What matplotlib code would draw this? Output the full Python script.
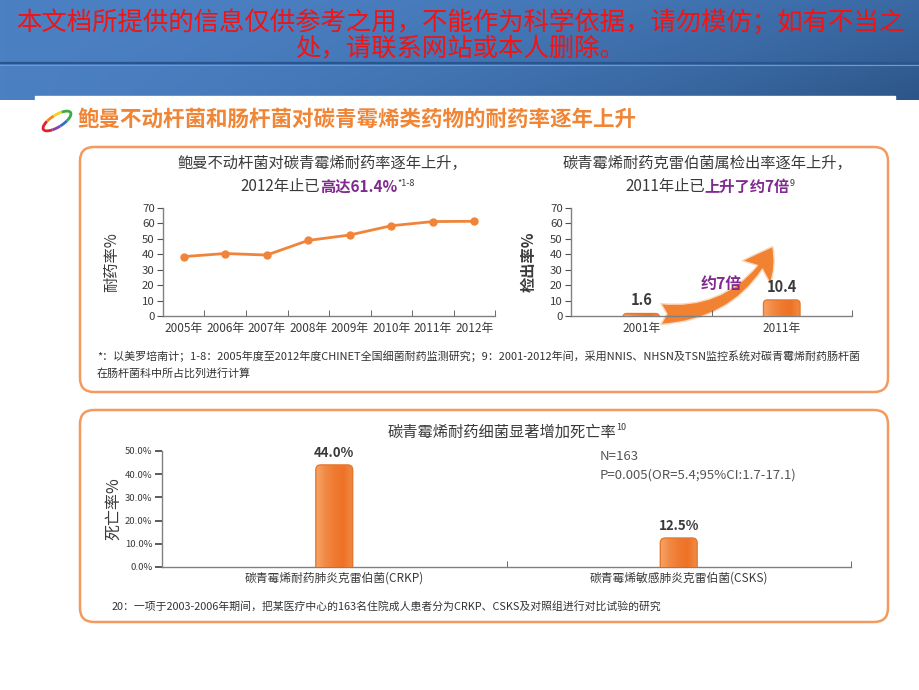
import numpy as np
import matplotlib
matplotlib.use("Agg")
import matplotlib.pyplot as plt
from matplotlib.patches import FancyBboxPatch, FancyArrowPatch, Arc, Rectangle
from matplotlib.offsetbox import TextArea, HPacker, AnnotationBbox
from matplotlib.colors import LinearSegmentedColormap, to_rgb

plt.rcParams['font.family'] = ['Noto Sans CJK SC', 'DejaVu Sans']

# ---------------- data ----------------
years = ['2005年', '2006年', '2007年', '2008年', '2009年', '2010年', '2011年', '2012年']
resistance = [38.5, 40.5, 39.5, 49.0, 52.5, 58.5, 61.2, 61.4]

det_years = ['2001年', '2011年']
detection = [1.6, 10.4]
det_labels = ['1.6', '10.4']

groups = ['碳青霉烯耐药肺炎克雷伯菌(CRKP)', '碳青霉烯敏感肺炎克雷伯菌(CSKS)']
mortality = [44.0, 12.5]
mort_labels = ['44.0%', '12.5%']

# ---------------- figure ----------------
W, H = 920, 690
fig = plt.figure(figsize=(9.2, 6.9), dpi=100)
bg = fig.add_axes([0, 0, 1, 1], zorder=0)
bg.set_xlim(0, W)
bg.set_ylim(H, 0)
bg.axis('off')

def axrect(l, t, r, b):
    return [l / W, 1 - b / H, (r - l) / W, (b - t) / H]

GRAY = '#3A3A3A'
PURPLE = '#80298F'
ORANGE = '#F0843A'
FRAME = '#F39A5E'

# banner gradient
c1 = np.array(to_rgb('#4B80C3'))
c2 = np.array(to_rgb('#2C5689'))
gx = np.linspace(0, 1, 200)[None, :]
gy = np.linspace(0, 1, 50)[:, None]
t = np.clip(0.55 * gx ** 2 + 0.45 * gy * gx, 0, 1)
img = c1[None, None, :] * (1 - t[..., None]) + c2[None, None, :] * t[..., None]
bg.imshow(img, extent=[0, W, 100, 0], aspect='auto', zorder=0)
bg.plot([0, W], [63, 63], color='#2A5490', lw=1.6, zorder=1)
bg.plot([0, W], [65, 65], color='#6F9ACD', lw=0.8, zorder=1)
bg.add_patch(Rectangle((35, 96), 860, 600, color='white', zorder=2))
bg.set_xlim(0, W)
bg.set_ylim(H, 0)

bg.text(460, 23, '本文档所提供的信息仅供参考之用，不能作为科学依据，请勿模仿；如有不当之',
        ha='center', va='center', fontsize=18.3, color='#F01414', zorder=3)
bg.text(460, 49, '处，请联系网站或本人删除。',
        ha='center', va='center', fontsize=18.3, color='#F01414', zorder=3)

# logo ring
logo_cols = ['#E0202A', '#F08A20', '#F2D320', '#3DAA45', '#2F6FD0', '#8A3FB0']
for i, c in enumerate(logo_cols):
    bg.add_patch(Arc((57, 121), 32, 12, angle=-32, theta1=150 + i * 60, theta2=210 + i * 60,
                     color=c, lw=2.0, zorder=3))

bg.text(78, 119, '鲍曼不动杆菌和肠杆菌对碳青霉烯类药物的耐药率逐年上升', ha='left', va='center',
        fontsize=15.5, fontweight='bold', color='#F08535', zorder=3)

# panels
bg.add_patch(FancyBboxPatch((80, 147), 808, 245, boxstyle='round,pad=0,rounding_size=14',
                            ec=FRAME, fc='#FFFFFF', lw=1.8, zorder=3))
bg.add_patch(FancyBboxPatch((80, 410), 808, 212, boxstyle='round,pad=0,rounding_size=14',
                            ec=FRAME, fc='#FFFFFF', lw=1.8, zorder=3))


def mixed(x, y, parts):
    boxes = [TextArea(s, textprops=kw) for s, kw in parts]
    pack = HPacker(children=boxes, align='top', pad=0, sep=0)
    ab = AnnotationBbox(pack, (x, y), xycoords='data', frameon=False,
                        box_alignment=(0.5, 0.5), pad=0, zorder=5)
    bg.add_artist(ab)


norm = dict(fontsize=11, color=GRAY)
hi = dict(fontsize=11, color=PURPLE, fontweight='bold')
sup = dict(fontsize=6.5, color=GRAY)

bg.text(322, 163, '鲍曼不动杆菌对碳青霉烯耐药率逐年上升，', ha='center', va='center', zorder=5, **norm)
mixed(328, 187, [('2012年止已', norm), ('高达61.4%', hi), ('*1-8', sup)])
bg.text(707, 163, '碳青霉烯耐药克雷伯菌属检出率逐年上升，', ha='center', va='center', zorder=5, **norm)
mixed(710, 187, [('2011年止已', norm), ('上升了约7倍', hi), ('9', sup)])
mixed(507, 432, [('碳青霉烯耐药细菌显著增加死亡率', norm), ('10', sup)])

bg.text(97, 356, '*：以美罗培南计；1-8：2005年度至2012年度CHINET全国细菌耐药监测研究；9：2001-2012年间，'
        '采用NNIS、NHSN及TSN监控系统对碳青霉烯耐药肠杆菌', ha='left', va='center', fontsize=7.95,
        color='#333333', zorder=5)
bg.text(97, 373, '在肠杆菌科中所占比列进行计算', ha='left', va='center', fontsize=7.95,
        color='#333333', zorder=5)
bg.text(112, 606, '20：一项于2003-2006年期间，把某医疗中心的163名住院成人患者分为CRKP、CSKS及对照组进行对比试验的研究',
        ha='left', va='center', fontsize=7.8, color='#333333', zorder=5)

bg.text(600, 456, 'N=163', ha='left', va='center', fontsize=9.5, color='#555555', zorder=5)
bg.text(600, 475, 'P=0.005(OR=5.4;95%CI:1.7-17.1)', ha='left', va='center', fontsize=9.5,
        color='#555555', zorder=5)

# arrow in chart 2
arr = FancyArrowPatch((658, 314), (774, 244), connectionstyle='arc3,rad=0.32',
                      arrowstyle='fancy,head_length=1.1,head_width=1.3,tail_width=0.75',
                      mutation_scale=20, fc='#F08232', ec='#FBD7BC', lw=1.0, zorder=6)
bg.add_patch(arr)
bg.text(721, 284, '约7倍', ha='center', va='center', fontsize=11.5, fontweight='bold',
        color=PURPLE, zorder=7)


def style_axes(ax):
    ax.set_facecolor('none')
    for s in ['top', 'right']:
        ax.spines[s].set_visible(False)
    for s in ['left', 'bottom']:
        ax.spines[s].set_color('#808080')
        ax.spines[s].set_linewidth(1.0)


bar_cmap = LinearSegmentedColormap.from_list('bar', ['#F7A468', '#F28A45', '#EF7A30', '#EE7226', '#F08A44'])


def rounded_bars(ax, bars, xr_px, yr_unit_px, r_px):
    xu, yu = xr_px, yr_unit_px
    for b in bars:
        x0, w, h = b.get_x(), b.get_width(), b.get_height()
        b.set_visible(False)
        r = r_px * xu
        pad = r_px * yu
        p = FancyBboxPatch((x0, -pad), w, h + pad, boxstyle='round,pad=0,rounding_size=%f' % r,
                           mutation_aspect=yu / xu, fc='none', ec='#E5782F', lw=1.0, zorder=4)
        ax.add_patch(p)
        grad = np.linspace(0, 1, 64)[None, :]
        im = ax.imshow(grad, extent=[x0, x0 + w, -pad, h], aspect='auto', cmap=bar_cmap, zorder=3)
        im.set_clip_path(p)


# ---------- chart 1: line ----------
ax1 = fig.add_axes(axrect(163, 208, 495, 316), zorder=2)
style_axes(ax1)
x1 = np.arange(len(years))
ax1.plot(x1, resistance, color=ORANGE, lw=2, marker='o', ms=5, zorder=3, clip_on=False)
ax1.set_xlim(-0.5, len(years) - 0.5)
ax1.set_ylim(0, 70)
ax1.set_yticks(np.arange(0, 71, 10))
ax1.set_xticks(x1)
ax1.set_xticklabels(years)
ax1.set_xticks(np.arange(-0.5, len(years), 1), minor=True)
ax1.tick_params(axis='x', which='major', length=0, labelsize=8.5, labelcolor=GRAY, pad=4)
ax1.tick_params(axis='x', which='minor', direction='in', length=4, color='#505050')
ax1.tick_params(axis='y', length=4, color='#505050', labelsize=8.2, labelcolor=GRAY, pad=2)
ax1.set_ylabel('耐药率%', fontsize=11, color=GRAY)
ax1.yaxis.set_label_coords(-0.13, 0.5)

# ---------- chart 2: bars ----------
ax2 = fig.add_axes(axrect(571, 208, 852, 316), zorder=2)
style_axes(ax2)
x2 = np.arange(len(det_years))
bars2 = ax2.bar(x2, detection, width=0.26)
rounded_bars(ax2, bars2, 2 / 281, 70 / 108, 4)
for xi, v, lab in zip(x2, detection, det_labels):
    ax2.text(xi, v + 3.5, lab, ha='center', va='bottom', fontsize=10.5, fontweight='bold', color=GRAY)
ax2.set_xlim(-0.5, 1.5)
ax2.set_ylim(0, 70)
ax2.set_yticks(np.arange(0, 71, 10))
ax2.set_xticks(x2)
ax2.set_xticklabels(det_years)
ax2.set_xticks([0.5, 1.5], minor=True)
ax2.tick_params(axis='x', which='major', length=0, labelsize=8.5, labelcolor=GRAY, pad=4)
ax2.tick_params(axis='x', which='minor', direction='in', length=4, color='#505050')
ax2.tick_params(axis='y', length=4, color='#505050', labelsize=8.2, labelcolor=GRAY, pad=2)
ax2.set_ylabel('检出率%', fontsize=11, color=GRAY, fontweight='bold')
ax2.yaxis.set_label_coords(-0.121, 0.5)

# ---------- chart 3: bars ----------
ax3 = fig.add_axes(axrect(162, 451, 851, 567), zorder=2)
style_axes(ax3)
x3 = np.arange(len(groups))
bars3 = ax3.bar(x3, mortality, width=0.107)
rounded_bars(ax3, bars3, 2 / 689, 50 / 116, 5)
for xi, v, lab in zip(x3, mortality, mort_labels):
    ax3.text(xi, v + 2.2, lab, ha='center', va='bottom', fontsize=9.5, fontweight='bold', color=GRAY)
ax3.set_xlim(-0.5, 1.5)
ax3.set_ylim(0, 50)
ax3.set_yticks(np.arange(0, 51, 10))
ax3.set_yticklabels(['%.1f%%' % v for v in np.arange(0, 51, 10)])
ax3.set_xticks(x3)
ax3.set_xticklabels(groups)
ax3.set_xticks([0.5, 1.5], minor=True)
ax3.tick_params(axis='x', which='major', length=0, labelsize=8.5, labelcolor=GRAY, pad=3)
ax3.tick_params(axis='x', which='minor', direction='in', length=4, color='#505050')
ax3.tick_params(axis='y', length=5, width=1.2, color='#404040', labelsize=6.8, labelcolor=GRAY, pad=2)
ax3.set_ylabel('死亡率%', fontsize=11.5, color=GRAY)
ax3.yaxis.set_label_coords(-0.058, 0.5)

fig.savefig('out.png', dpi=100)
